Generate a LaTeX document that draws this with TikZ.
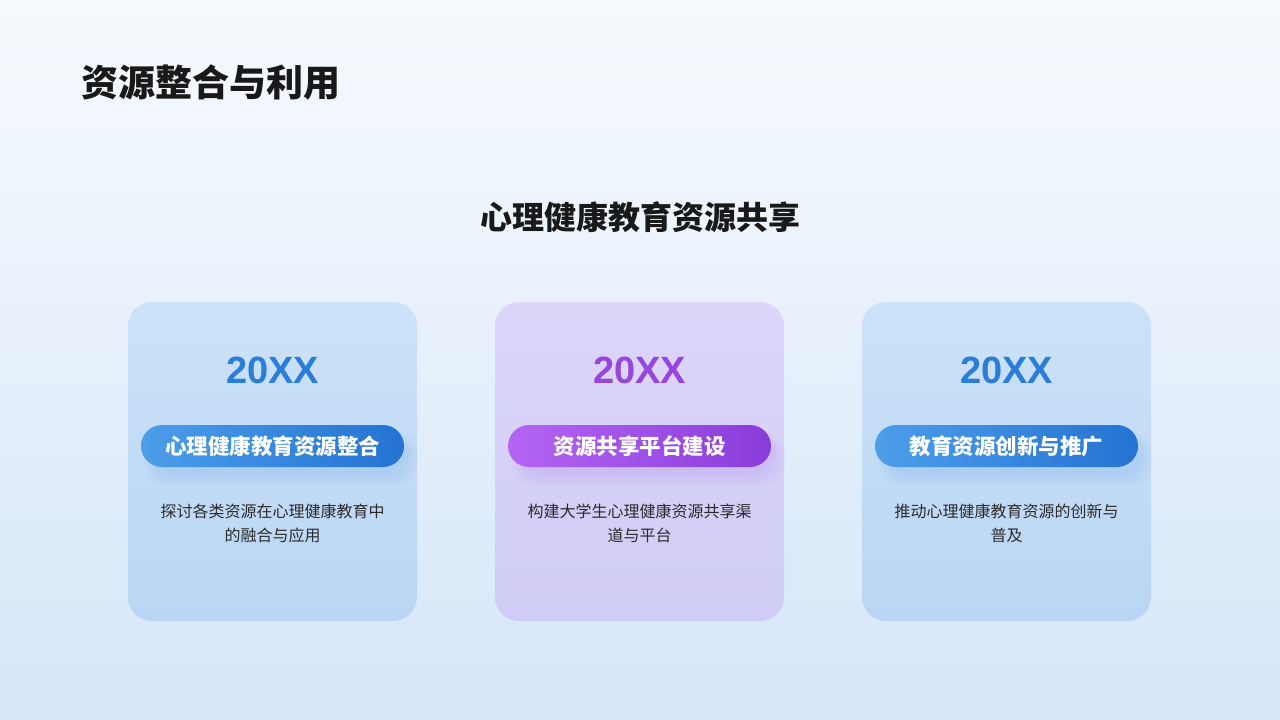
\documentclass[tikz,border=0pt]{standalone}
\usepackage{fontspec}
\setmainfont{Liberation Sans}
\newfontfamily\cjk{Noto Sans CJK SC}
\usepackage{xcolor}
\usetikzlibrary{positioning}

\definecolor{bgtop}{HTML}{F6FAFE}
\definecolor{bgbot}{HTML}{D6E6F8}
\definecolor{bluetop}{HTML}{CCE2F8}
\definecolor{bluebot}{HTML}{BAD6F4}
\definecolor{violtop}{HTML}{DDD6F9}
\definecolor{violbot}{HTML}{CFCCF5}
\definecolor{blueyear}{HTML}{2A7DD8}
\definecolor{violyear}{HTML}{9646DE}
\definecolor{pillbl}{HTML}{4C9EEA}
\definecolor{pillbr}{HTML}{2473D2}
\definecolor{pillvl}{HTML}{B565F2}
\definecolor{pillvr}{HTML}{8A3CDB}
\definecolor{txt}{HTML}{2B2B2B}

\tikzset{
  card/.style={rounded corners=24pt, minimum width=289pt, minimum height=319pt, inner sep=0pt},
  pill/.style={rounded corners=21pt, minimum width=263pt, minimum height=42pt, inner sep=0pt,
    text=white, font=\cjk\bfseries\fontsize{21.5}{24}\selectfont},
  year/.style={font=\bfseries\fontsize{38}{40}\selectfont},
  desc/.style={font=\cjk\fontsize{16}{24}\selectfont, align=center, text=txt},
  glow/.style={rounded corners=24pt, opacity=0.035},
}

\begin{document}
\begin{tikzpicture}[x=1pt,y=-1pt]
\shade[top color=bgtop, bottom color=bgbot] (0,0) rectangle (1280,720);
\node[anchor=west, font=\cjk\bfseries\fontsize{37}{40}\selectfont, text=black!90] (title) at (78,82) {资源整合与利用};
\node[font=\cjk\bfseries\fontsize{32}{36}\selectfont, text=black!90] (subtitle) at (640,217) {心理健康教育资源共享};

% left card
\node[card, top color=bluetop, bottom color=bluebot] (cardA) at (272.5,461.5) {};
\node[year, text=blueyear] (yearA) at (272.5,370) {20XX};
\fill[glow, blueyear] (144,432) rectangle (418,486);
\fill[glow, blueyear] (147,433) rectangle (414,482);
\fill[glow, blueyear] (150,434) rectangle (410,478);
\fill[glow, blueyear] (153,435) rectangle (406,474);
\node[pill, left color=pillbl, right color=pillbr] (pillA) at (272.5,446) {心理健康教育资源整合};
\node[desc, below=33pt of pillA] (descA) {探讨各类资源在心理健康教育中\\的融合与应用};

% middle card
\node[card, top color=violtop, bottom color=violbot] (cardB) at (639.5,461.5) {};
\node[year, text=violyear] (yearB) at (639.5,370) {20XX};
\fill[glow, violyear] (511,432) rectangle (785,486);
\fill[glow, violyear] (514,433) rectangle (781,482);
\fill[glow, violyear] (517,434) rectangle (777,478);
\fill[glow, violyear] (520,435) rectangle (773,474);
\node[pill, left color=pillvl, right color=pillvr] (pillB) at (639.5,446) {资源共享平台建设};
\node[desc, below=33pt of pillB] (descB) {构建大学生心理健康资源共享渠\\道与平台};

% right card
\node[card, top color=bluetop, bottom color=bluebot] (cardC) at (1006.5,461.5) {};
\node[year, text=blueyear] (yearC) at (1006.5,370) {20XX};
\fill[glow, blueyear] (878,432) rectangle (1152,486);
\fill[glow, blueyear] (881,433) rectangle (1148,482);
\fill[glow, blueyear] (884,434) rectangle (1144,478);
\fill[glow, blueyear] (887,435) rectangle (1140,474);
\node[pill, left color=pillbl, right color=pillbr] (pillC) at (1006.5,446) {教育资源创新与推广};
\node[desc, below=33pt of pillC] (descC) {推动心理健康教育资源的创新与\\普及};
\end{tikzpicture}
\end{document}
